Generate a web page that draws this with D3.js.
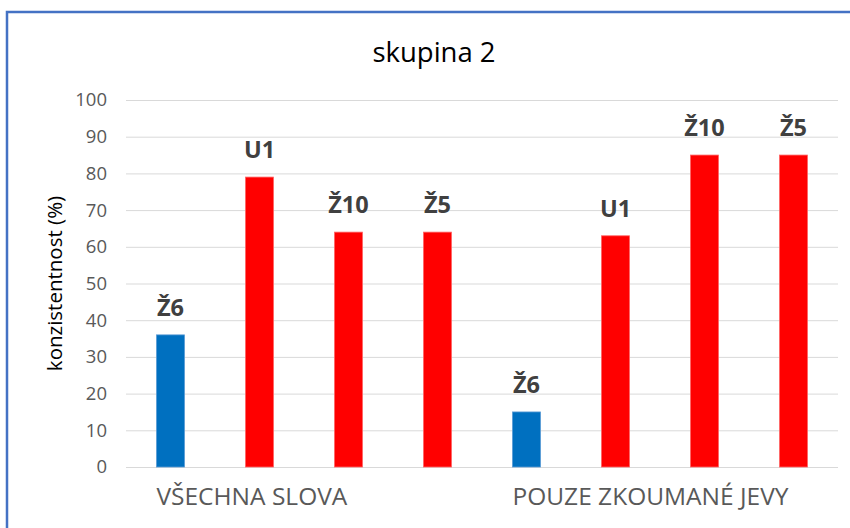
<!DOCTYPE html>
<html>
<head>
<meta charset="utf-8">
<script src="https://cdn.jsdelivr.net/npm/d3@7"></script>
<style>
  body { margin: 0; background: #fff; }
  text { font-family: "Open Sans", sans-serif; }
</style>
</head>
<body>
<div id="chart"></div>
<script>
// categories and series
var categories = ['VŠECHNA SLOVA', 'POUZE ZKOUMANÉ JEVY'];
var seriesNames = ['Ž6', 'U1', 'Ž10', 'Ž5'];
var seriesColors = ['#0070C0', '#FF0000', '#FF0000', '#FF0000'];
var seriesStroke = ['#5B9BD5', '#FF6666', '#FF6666', '#FF6666'];
var valuesZ6 = [36, 15];
var valuesU1 = [79, 63];
var valuesZ10 = [64, 85];
var valuesZ5 = [64, 85];
var yTicks = [0, 10, 20, 30, 40, 50, 60, 70, 80, 90, 100];

var width = 850,
    height = 528;

var margin = {top: 100, right: 12, bottom: 61, left: 126};

var svg = d3.select('#chart').append('svg')
    .attr('width', width)
    .attr('height', height);

// outer frame of the chart
svg.append('rect')
    .attr('x', 7)
    .attr('y', 12)
    .attr('width', 900)
    .attr('height', 600)
    .attr('fill', 'none')
    .attr('stroke', '#4472C4')
    .attr('stroke-width', 2.5);

svg.append('text')
    .attr('x', 434)
    .attr('y', 62)
    .attr('text-anchor', 'middle')
    .attr('font-size', 27.5)
    .attr('fill', '#000')
    .text('skupina 2');

var x0 = d3.scaleBand()
    .domain(categories)
    .range([margin.left, width - margin.right])
    .padding(0);

var x1 = d3.scaleBand()
    .domain(seriesNames)
    .range([0, x0.bandwidth()])
    .paddingInner(0.685)
    .paddingOuter(0.3425);

var y = d3.scaleLinear()
    .domain([0, 100])
    .range([height - margin.bottom, margin.top]);

// gridlines + tick labels
var yAxis = d3.axisLeft(y)
    .tickValues(yTicks)
    .tickSize(-(width - margin.right - margin.left))
    .tickPadding(19)
    .tickFormat(d3.format('d'));

var gy = svg.append('g')
    .attr('transform', 'translate(' + margin.left + ',0)')
    .call(yAxis);
gy.select('.domain').remove();
gy.selectAll('.tick line').attr('stroke', '#D9D9D9').attr('stroke-width', 1);
gy.selectAll('.tick text')
    .attr('fill', '#595959')
    .attr('font-size', 18.5)
    .attr('font-family', '"Open Sans", sans-serif');

svg.append('text')
    .attr('transform', 'translate(55,' + ((margin.top + height - margin.bottom) / 2) + ') rotate(-90)')
    .attr('text-anchor', 'middle')
    .attr('dy', '0.35em')
    .attr('font-size', 20.5)
    .attr('fill', '#000')
    .text('konzistentnost (%)');

var allValues = [valuesZ6, valuesU1, valuesZ10, valuesZ5];
var rows = [];
categories.forEach(function(c, ci) {
  seriesNames.forEach(function(s, si) {
    rows.push({cat: c, name: s, si: si, value: allValues[si][ci]});
  });
});

var bars = svg.append('g').selectAll('g')
    .data(rows)
    .enter().append('g');

bars.append('rect')
    .attr('x', function(d) { return x0(d.cat) + x1(d.name); })
    .attr('y', function(d) { return y(d.value); })
    .attr('width', x1.bandwidth())
    .attr('height', function(d) { return y(0) - y(d.value); })
    .attr('fill', function(d) { return seriesColors[d.si]; })
    .attr('stroke', function(d) { return seriesStroke[d.si]; })
    .attr('stroke-width', 0.8);

bars.append('text')
    .attr('x', function(d) { return x0(d.cat) + x1(d.name) + x1.bandwidth() / 2; })
    .attr('y', function(d) { return y(d.value) - 19; })
    .attr('text-anchor', 'middle')
    .attr('font-size', 23.5)
    .attr('font-weight', 'bold')
    .attr('fill', '#404040')
    .text(function(d) { return d.name; });

// category labels start at the first bar of each group
svg.append('g').selectAll('text')
    .data(categories)
    .enter().append('text')
    .attr('x', function(d) { return x0(d) + x1(seriesNames[0]); })
    .attr('y', 505)
    .attr('font-size', 24.5)
    .attr('fill', '#595959')
    .text(function(d) { return d; });
</script>
</body>
</html>
